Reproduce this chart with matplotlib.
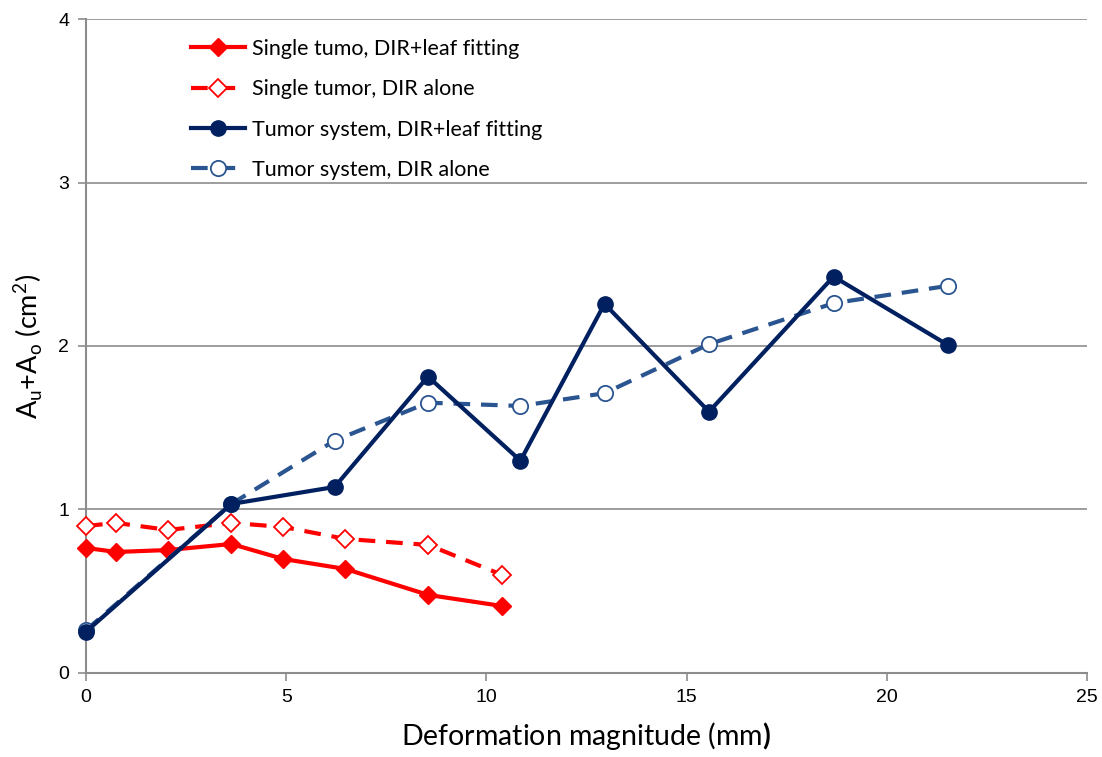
import matplotlib
matplotlib.use("Agg")
import matplotlib.pyplot as plt

plt.rcParams["font.family"] = ["Lato", "DejaVu Sans"]
plt.rcParams["mathtext.fontset"] = "custom"
plt.rcParams["mathtext.rm"] = "Lato"
plt.rcParams["mathtext.bf"] = "Lato:bold"

# single tumor
single_x = [0, 0.75, 2.05, 3.63, 4.93, 6.48, 8.55, 10.4]
single_leaf = [0.764, 0.739, 0.751, 0.788, 0.696, 0.635, 0.476, 0.408]
single_dir = [0.898, 0.917, 0.874, 0.917, 0.892, 0.819, 0.782, 0.598]

# tumor system
system_x = [0, 3.63, 6.21, 8.54, 10.85, 12.95, 15.56, 18.67, 21.52]
system_leaf = [0.251, 1.033, 1.137, 1.813, 1.298, 2.258, 1.598, 2.425, 2.007]
system_dir = [0.26, 1.033, 1.421, 1.653, 1.633, 1.711, 2.011, 2.262, 2.368]

labels = [
    "Single tumo, DIR+leaf fitting",
    "Single tumor, DIR alone",
    "Tumor system, DIR+leaf fitting",
    "Tumor system, DIR alone",
]

RED = "#FF0000"
NAVY = "#002060"
BLUE = "#2A5590"
GRID = "#8C8C8C"
DASH = (0, (4, 2.6))

fig = plt.figure(figsize=(11.02, 7.57), dpi=100)
ax = fig.add_axes([86 / 1102, 1 - 672.7 / 757, (1087 - 86) / 1102, (672.7 - 19.3) / 757])

ax.plot(single_x, single_leaf, color=RED, lw=3, marker="D", ms=9.5,
        mfc=RED, mec=RED, label=labels[0], zorder=3, clip_on=False)
ax.plot(single_x, single_dir, color=RED, lw=3, ls=DASH, marker="D", ms=9,
        mfc="white", mec=RED, mew=1.3, label=labels[1], zorder=3, clip_on=False)
ax.plot(system_x, system_leaf, color=NAVY, lw=3, marker="o", ms=11,
        mfc=NAVY, mec=NAVY, label=labels[2], zorder=4, clip_on=False)
ax.plot(system_x, system_dir, color=BLUE, lw=3, ls=DASH, marker="o", ms=11,
        mfc="white", mec=BLUE, mew=1.3, label=labels[3], zorder=3, clip_on=False)

ax.set_xlim(0, 25)
ax.set_ylim(0, 4)
ax.set_xticks([0, 5, 10, 15, 20, 25])
ax.set_yticks([0, 1, 2, 3, 4])
ax.yaxis.grid(True, color=GRID, lw=1.2)
ax.set_axisbelow(True)

for side in ["top", "right"]:
    ax.spines[side].set_visible(False)
for side in ["left", "bottom"]:
    ax.spines[side].set_color(GRID)
    ax.spines[side].set_linewidth(1.5)
ax.tick_params(axis="both", direction="out", length=6, width=1.2, color=GRID,
               labelsize=14, pad=6)
for lab in ax.get_xticklabels() + ax.get_yticklabels():
    lab.set_fontfamily(["Liberation Sans", "DejaVu Sans"])

ax.set_xlabel(r"Deformation magnitude (mm$\mathbf{)}$", fontsize=20.5, labelpad=10)
ax.set_ylabel(r"A$_\mathregular{u}$+A$_\mathregular{o}$ (cm$^\mathregular{2}$)", fontsize=19.5, labelpad=10)

leg = ax.legend(loc="upper left", bbox_to_anchor=(0.086, 1.0), frameon=False,
                fontsize=15.5, handlelength=2.5, handletextpad=0.3, labelspacing=0.95)

fig.savefig("out.png", dpi=100)
